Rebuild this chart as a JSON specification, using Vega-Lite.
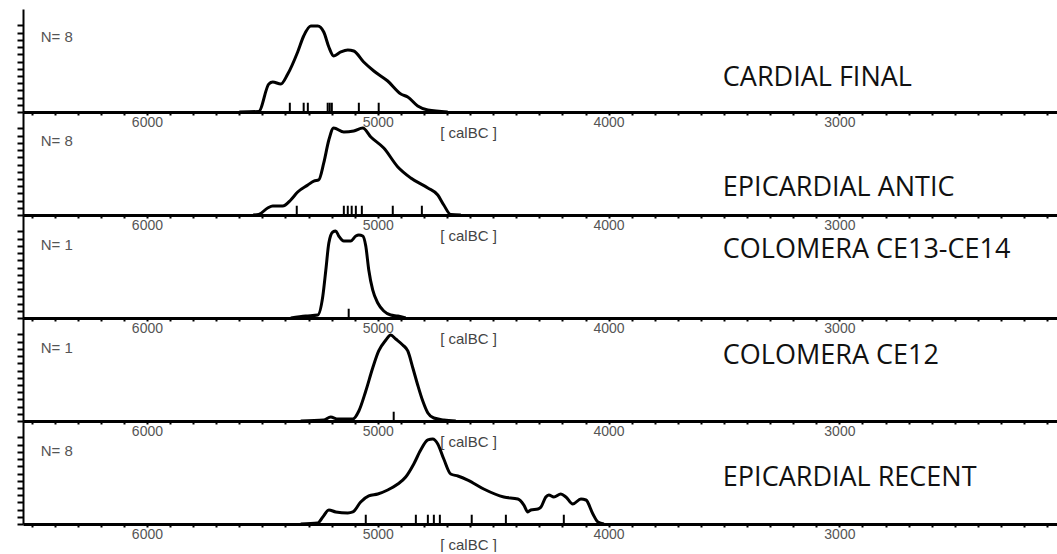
{
  "$schema": "https://vega.github.io/schema/vega-lite/v6.json",
  "padding": {"left": 16, "top": 9, "right": 0, "bottom": 0},
  "background": "white",
  "spacing": 0,
  "bounds": "flush",
  "config": {
    "view": {"stroke": null},
    "axisX": {
      "labelExpr": "(datum.value % 1000 == 0) ? format(datum.value, 'd') : ''", "labelOverlap": false, "labelFlush": false, "tickCount": 100,
      "tickSize": 3, "tickWidth": 2, "tickColor": "black", "domainColor": "black", "domainWidth": 3, "grid": false,
      "labelFont": "Liberation Sans", "labelFontSize": 14, "labelColor": "#555", "labelPadding": 0,
      "titleFont": "Liberation Sans", "titleFontSize": 15, "titleFontWeight": "normal", "titleColor": "#444", "titleX": 445, "titleY": 20, "titleBaseline": "middle", "titleAlign": "center"},
    "axisY": {"labels": false, "tickCount": 30, "tickSize": 6, "tickWidth": 2, "tickColor": "black", "domainColor": "black", "domainWidth": 2, "grid": false}
  },
  "datasets": {
    "curves": [
      {"panel": 1, "year": 5600, "dens": 0}, {"panel": 1, "year": 5516, "dens": 0.005}, {"panel": 1, "year": 5472, "dens": 0.272}, {"panel": 1, "year": 5455, "dens": 0.291}, {"panel": 1, "year": 5420, "dens": 0.272}, {"panel": 1, "year": 5390, "dens": 0.369}, {"panel": 1, "year": 5347, "dens": 0.583}, {"panel": 1, "year": 5321, "dens": 0.738}, {"panel": 1, "year": 5290, "dens": 0.835}, {"panel": 1, "year": 5260, "dens": 0.835}, {"panel": 1, "year": 5234, "dens": 0.777}, {"panel": 1, "year": 5212, "dens": 0.631}, {"panel": 1, "year": 5191, "dens": 0.544}, {"panel": 1, "year": 5160, "dens": 0.583}, {"panel": 1, "year": 5130, "dens": 0.602}, {"panel": 1, "year": 5104, "dens": 0.592}, {"panel": 1, "year": 5061, "dens": 0.485}, {"panel": 1, "year": 5017, "dens": 0.398}, {"panel": 1, "year": 4957, "dens": 0.301}, {"panel": 1, "year": 4900, "dens": 0.175}, {"panel": 1, "year": 4870, "dens": 0.146}, {"panel": 1, "year": 4827, "dens": 0.058}, {"panel": 1, "year": 4783, "dens": 0.019}, {"panel": 1, "year": 4697, "dens": 0},
      {"panel": 2, "year": 5540, "dens": 0}, {"panel": 2, "year": 5516, "dens": 0.005}, {"panel": 2, "year": 5477, "dens": 0.068}, {"panel": 2, "year": 5455, "dens": 0.087}, {"panel": 2, "year": 5412, "dens": 0.087}, {"panel": 2, "year": 5377, "dens": 0.146}, {"panel": 2, "year": 5347, "dens": 0.223}, {"panel": 2, "year": 5303, "dens": 0.291}, {"panel": 2, "year": 5277, "dens": 0.33}, {"panel": 2, "year": 5256, "dens": 0.34}, {"panel": 2, "year": 5234, "dens": 0.505}, {"panel": 2, "year": 5212, "dens": 0.728}, {"panel": 2, "year": 5191, "dens": 0.845}, {"panel": 2, "year": 5147, "dens": 0.806}, {"panel": 2, "year": 5104, "dens": 0.816}, {"panel": 2, "year": 5065, "dens": 0.845}, {"panel": 2, "year": 5030, "dens": 0.757}, {"panel": 2, "year": 4974, "dens": 0.65}, {"panel": 2, "year": 4913, "dens": 0.466}, {"panel": 2, "year": 4857, "dens": 0.359}, {"panel": 2, "year": 4783, "dens": 0.262}, {"panel": 2, "year": 4740, "dens": 0.194}, {"panel": 2, "year": 4714, "dens": 0.097}, {"panel": 2, "year": 4684, "dens": 0.005}, {"panel": 2, "year": 4640, "dens": 0},
      {"panel": 3, "year": 5377, "dens": 0}, {"panel": 3, "year": 5312, "dens": 0.019}, {"panel": 3, "year": 5260, "dens": 0.029}, {"panel": 3, "year": 5238, "dens": 0.214}, {"panel": 3, "year": 5225, "dens": 0.466}, {"panel": 3, "year": 5212, "dens": 0.728}, {"panel": 3, "year": 5195, "dens": 0.835}, {"panel": 3, "year": 5182, "dens": 0.845}, {"panel": 3, "year": 5169, "dens": 0.796}, {"panel": 3, "year": 5147, "dens": 0.748}, {"panel": 3, "year": 5117, "dens": 0.748}, {"panel": 3, "year": 5095, "dens": 0.796}, {"panel": 3, "year": 5082, "dens": 0.806}, {"panel": 3, "year": 5065, "dens": 0.796}, {"panel": 3, "year": 5052, "dens": 0.699}, {"panel": 3, "year": 5039, "dens": 0.466}, {"panel": 3, "year": 5022, "dens": 0.272}, {"panel": 3, "year": 5000, "dens": 0.146}, {"panel": 3, "year": 4974, "dens": 0.068}, {"panel": 3, "year": 4944, "dens": 0.029}, {"panel": 3, "year": 4913, "dens": 0.019}, {"panel": 3, "year": 4879, "dens": 0},
      {"panel": 4, "year": 5334, "dens": 0}, {"panel": 4, "year": 5234, "dens": 0.01}, {"panel": 4, "year": 5204, "dens": 0.039}, {"panel": 4, "year": 5173, "dens": 0.019}, {"panel": 4, "year": 5108, "dens": 0.019}, {"panel": 4, "year": 5082, "dens": 0.097}, {"panel": 4, "year": 5052, "dens": 0.291}, {"panel": 4, "year": 5022, "dens": 0.515}, {"panel": 4, "year": 4996, "dens": 0.68}, {"panel": 4, "year": 4965, "dens": 0.786}, {"panel": 4, "year": 4944, "dens": 0.835}, {"panel": 4, "year": 4922, "dens": 0.796}, {"panel": 4, "year": 4892, "dens": 0.738}, {"panel": 4, "year": 4870, "dens": 0.68}, {"panel": 4, "year": 4848, "dens": 0.515}, {"panel": 4, "year": 4827, "dens": 0.35}, {"panel": 4, "year": 4805, "dens": 0.194}, {"panel": 4, "year": 4783, "dens": 0.078}, {"panel": 4, "year": 4757, "dens": 0.029}, {"panel": 4, "year": 4714, "dens": 0.01}, {"panel": 4, "year": 4662, "dens": 0},
      {"panel": 5, "year": 5334, "dens": 0}, {"panel": 5, "year": 5260, "dens": 0.01}, {"panel": 5, "year": 5238, "dens": 0.068}, {"panel": 5, "year": 5212, "dens": 0.136}, {"panel": 5, "year": 5182, "dens": 0.117}, {"panel": 5, "year": 5130, "dens": 0.107}, {"panel": 5, "year": 5108, "dens": 0.117}, {"panel": 5, "year": 5074, "dens": 0.214}, {"panel": 5, "year": 5039, "dens": 0.272}, {"panel": 5, "year": 5000, "dens": 0.291}, {"panel": 5, "year": 4957, "dens": 0.33}, {"panel": 5, "year": 4913, "dens": 0.388}, {"panel": 5, "year": 4879, "dens": 0.456}, {"panel": 5, "year": 4844, "dens": 0.583}, {"panel": 5, "year": 4814, "dens": 0.718}, {"panel": 5, "year": 4783, "dens": 0.816}, {"panel": 5, "year": 4762, "dens": 0.825}, {"panel": 5, "year": 4740, "dens": 0.777}, {"panel": 5, "year": 4714, "dens": 0.631}, {"panel": 5, "year": 4684, "dens": 0.485}, {"panel": 5, "year": 4653, "dens": 0.466}, {"panel": 5, "year": 4610, "dens": 0.427}, {"panel": 5, "year": 4541, "dens": 0.34}, {"panel": 5, "year": 4454, "dens": 0.262}, {"panel": 5, "year": 4393, "dens": 0.243}, {"panel": 5, "year": 4367, "dens": 0.184}, {"panel": 5, "year": 4350, "dens": 0.117}, {"panel": 5, "year": 4337, "dens": 0.136}, {"panel": 5, "year": 4306, "dens": 0.146}, {"panel": 5, "year": 4293, "dens": 0.165}, {"panel": 5, "year": 4272, "dens": 0.262}, {"panel": 5, "year": 4259, "dens": 0.282}, {"panel": 5, "year": 4237, "dens": 0.262}, {"panel": 5, "year": 4207, "dens": 0.291}, {"panel": 5, "year": 4185, "dens": 0.262}, {"panel": 5, "year": 4155, "dens": 0.194}, {"panel": 5, "year": 4120, "dens": 0.243}, {"panel": 5, "year": 4098, "dens": 0.233}, {"panel": 5, "year": 4068, "dens": 0.097}, {"panel": 5, "year": 4046, "dens": 0.019}, {"panel": 5, "year": 4020, "dens": 0}
    ],
    "rugs": [
      {"panel": 1, "year": 5381}, {"panel": 1, "year": 5321}, {"panel": 1, "year": 5303}, {"panel": 1, "year": 5217}, {"panel": 1, "year": 5208}, {"panel": 1, "year": 5199}, {"panel": 1, "year": 5082}, {"panel": 1, "year": 4996},
      {"panel": 2, "year": 5351}, {"panel": 2, "year": 5147}, {"panel": 2, "year": 5130}, {"panel": 2, "year": 5113}, {"panel": 2, "year": 5095}, {"panel": 2, "year": 5069}, {"panel": 2, "year": 4935}, {"panel": 2, "year": 4809},
      {"panel": 3, "year": 5126},
      {"panel": 4, "year": 4931},
      {"panel": 5, "year": 5052}, {"panel": 5, "year": 4835}, {"panel": 5, "year": 4783}, {"panel": 5, "year": 4757}, {"panel": 5, "year": 4731}, {"panel": 5, "year": 4593}, {"panel": 5, "year": 4445}, {"panel": 5, "year": 4194}
    ],
    "labels": [
      {"panel": 1, "n": "N=  8", "title": "CARDIAL FINAL"},
      {"panel": 2, "n": "N=  8", "title": "EPICARDIAL ANTIC"},
      {"panel": 3, "n": "N=  1", "title": "COLOMERA CE13-CE14"},
      {"panel": 4, "n": "N=  1", "title": "COLOMERA CE12"},
      {"panel": 5, "n": "N=  8", "title": "EPICARDIAL RECENT"}
    ]
  },
  "vconcat": [
    {
      "width": 1035, "height": 103,
      "layer": [
        {"data": {"name": "curves"}, "transform": [{"filter": "datum.panel === 1"}],
         "mark": {"type": "line", "stroke": "black", "strokeWidth": 3, "interpolate": "monotone"},
         "encoding": {
           "x": {"field": "year", "type": "quantitative", "scale": {"domain": [6537, 2053], "nice": false, "zero": false}, "axis": {"title": "[ calBC ]", "values": [6500,6400,6300,6200,6100,6000,5900,5800,5700,5600,5500,5400,5300,5200,5100,5000,4900,4800,4700,4600,4500,4400,4300,4200,4100,4000,3900,3800,3700,3600,3500,3400,3300,3200,3100,3000,2900,2800,2700,2600,2500,2400,2300,2200,2100]}},
           "y": {"field": "dens", "type": "quantitative", "scale": {"domain": [0, 1], "nice": false}, "axis": {"title": null, "values": [0,0.07,0.14,0.21,0.28,0.35,0.42,0.49,0.56,0.63,0.7,0.77,0.84]}}
         }},
        {"data": {"name": "rugs"}, "transform": [{"filter": "datum.panel === 1"}],
         "mark": {"type": "rule", "stroke": "black", "strokeWidth": 2},
         "encoding": {"x": {"field": "year", "type": "quantitative"}, "y": {"datum": 0}, "y2": {"datum": 0.09}}},
        {"mark": {"type": "rule", "stroke": "black", "strokeWidth": 3}, "encoding": {"y": {"datum": 1}}},
        {"data": {"name": "labels"}, "transform": [{"filter": "datum.panel === 1"}],
         "mark": {"type": "text", "align": "left", "baseline": "middle", "font": "Liberation Sans", "fontSize": 15, "fill": "#555"},
         "encoding": {"x": {"datum": 6460}, "y": {"datum": 0.73}, "text": {"field": "n"}}},
        {"data": {"name": "labels"}, "transform": [{"filter": "datum.panel === 1"}],
         "mark": {"type": "text", "align": "left", "baseline": "middle", "font": "Open Sans", "fontSize": 27, "fill": "#111"},
         "encoding": {"x": {"datum": 3505}, "y": {"datum": 0.33}, "text": {"field": "title"}}}
      ]
    },
    {
      "width": 1035, "height": 103,
      "layer": [
        {"data": {"name": "curves"}, "transform": [{"filter": "datum.panel === 2"}],
         "mark": {"type": "line", "stroke": "black", "strokeWidth": 3, "interpolate": "monotone"},
         "encoding": {
           "x": {"field": "year", "type": "quantitative", "scale": {"domain": [6537, 2053], "nice": false, "zero": false}, "axis": {"title": "[ calBC ]", "values": [6500,6400,6300,6200,6100,6000,5900,5800,5700,5600,5500,5400,5300,5200,5100,5000,4900,4800,4700,4600,4500,4400,4300,4200,4100,4000,3900,3800,3700,3600,3500,3400,3300,3200,3100,3000,2900,2800,2700,2600,2500,2400,2300,2200,2100]}},
           "y": {"field": "dens", "type": "quantitative", "scale": {"domain": [0, 1], "nice": false}, "axis": {"title": null, "values": [0,0.07,0.14,0.21,0.28,0.35,0.42,0.49,0.56,0.63,0.7,0.77,0.84]}}
         }},
        {"data": {"name": "rugs"}, "transform": [{"filter": "datum.panel === 2"}],
         "mark": {"type": "rule", "stroke": "black", "strokeWidth": 2},
         "encoding": {"x": {"field": "year", "type": "quantitative"}, "y": {"datum": 0}, "y2": {"datum": 0.09}}},
        {"data": {"name": "labels"}, "transform": [{"filter": "datum.panel === 2"}],
         "mark": {"type": "text", "align": "left", "baseline": "middle", "font": "Liberation Sans", "fontSize": 15, "fill": "#555"},
         "encoding": {"x": {"datum": 6460}, "y": {"datum": 0.72}, "text": {"field": "n"}}},
        {"data": {"name": "labels"}, "transform": [{"filter": "datum.panel === 2"}],
         "mark": {"type": "text", "align": "left", "baseline": "middle", "font": "Open Sans", "fontSize": 27, "fill": "#111"},
         "encoding": {"x": {"datum": 3505}, "y": {"datum": 0.26}, "text": {"field": "title"}}}
      ]
    },
    {
      "width": 1035, "height": 103,
      "layer": [
        {"data": {"name": "curves"}, "transform": [{"filter": "datum.panel === 3"}],
         "mark": {"type": "line", "stroke": "black", "strokeWidth": 3, "interpolate": "monotone"},
         "encoding": {
           "x": {"field": "year", "type": "quantitative", "scale": {"domain": [6537, 2053], "nice": false, "zero": false}, "axis": {"title": "[ calBC ]", "values": [6500,6400,6300,6200,6100,6000,5900,5800,5700,5600,5500,5400,5300,5200,5100,5000,4900,4800,4700,4600,4500,4400,4300,4200,4100,4000,3900,3800,3700,3600,3500,3400,3300,3200,3100,3000,2900,2800,2700,2600,2500,2400,2300,2200,2100]}},
           "y": {"field": "dens", "type": "quantitative", "scale": {"domain": [0, 1], "nice": false}, "axis": {"title": null, "values": [0,0.07,0.14,0.21,0.28,0.35,0.42,0.49,0.56,0.63,0.7,0.77,0.84]}}
         }},
        {"data": {"name": "rugs"}, "transform": [{"filter": "datum.panel === 3"}],
         "mark": {"type": "rule", "stroke": "black", "strokeWidth": 2},
         "encoding": {"x": {"field": "year", "type": "quantitative"}, "y": {"datum": 0}, "y2": {"datum": 0.09}}},
        {"data": {"name": "labels"}, "transform": [{"filter": "datum.panel === 3"}],
         "mark": {"type": "text", "align": "left", "baseline": "middle", "font": "Liberation Sans", "fontSize": 15, "fill": "#555"},
         "encoding": {"x": {"datum": 6460}, "y": {"datum": 0.71}, "text": {"field": "n"}}},
        {"data": {"name": "labels"}, "transform": [{"filter": "datum.panel === 3"}],
         "mark": {"type": "text", "align": "left", "baseline": "middle", "font": "Open Sans", "fontSize": 27, "fill": "#111"},
         "encoding": {"x": {"datum": 3505}, "y": {"datum": 0.66}, "text": {"field": "title"}}}
      ]
    },
    {
      "width": 1035, "height": 103,
      "layer": [
        {"data": {"name": "curves"}, "transform": [{"filter": "datum.panel === 4"}],
         "mark": {"type": "line", "stroke": "black", "strokeWidth": 3, "interpolate": "monotone"},
         "encoding": {
           "x": {"field": "year", "type": "quantitative", "scale": {"domain": [6537, 2053], "nice": false, "zero": false}, "axis": {"title": "[ calBC ]", "values": [6500,6400,6300,6200,6100,6000,5900,5800,5700,5600,5500,5400,5300,5200,5100,5000,4900,4800,4700,4600,4500,4400,4300,4200,4100,4000,3900,3800,3700,3600,3500,3400,3300,3200,3100,3000,2900,2800,2700,2600,2500,2400,2300,2200,2100]}},
           "y": {"field": "dens", "type": "quantitative", "scale": {"domain": [0, 1], "nice": false}, "axis": {"title": null, "values": [0,0.07,0.14,0.21,0.28,0.35,0.42,0.49,0.56,0.63,0.7,0.77,0.84]}}
         }},
        {"data": {"name": "rugs"}, "transform": [{"filter": "datum.panel === 4"}],
         "mark": {"type": "rule", "stroke": "black", "strokeWidth": 2},
         "encoding": {"x": {"field": "year", "type": "quantitative"}, "y": {"datum": 0}, "y2": {"datum": 0.09}}},
        {"data": {"name": "labels"}, "transform": [{"filter": "datum.panel === 4"}],
         "mark": {"type": "text", "align": "left", "baseline": "middle", "font": "Liberation Sans", "fontSize": 15, "fill": "#555"},
         "encoding": {"x": {"datum": 6460}, "y": {"datum": 0.71}, "text": {"field": "n"}}},
        {"data": {"name": "labels"}, "transform": [{"filter": "datum.panel === 4"}],
         "mark": {"type": "text", "align": "left", "baseline": "middle", "font": "Open Sans", "fontSize": 27, "fill": "#111"},
         "encoding": {"x": {"datum": 3505}, "y": {"datum": 0.63}, "text": {"field": "title"}}}
      ]
    },
    {
      "width": 1035, "height": 103,
      "layer": [
        {"data": {"name": "curves"}, "transform": [{"filter": "datum.panel === 5"}],
         "mark": {"type": "line", "stroke": "black", "strokeWidth": 3, "interpolate": "monotone"},
         "encoding": {
           "x": {"field": "year", "type": "quantitative", "scale": {"domain": [6537, 2053], "nice": false, "zero": false}, "axis": {"title": "[ calBC ]", "values": [6500,6400,6300,6200,6100,6000,5900,5800,5700,5600,5500,5400,5300,5200,5100,5000,4900,4800,4700,4600,4500,4400,4300,4200,4100,4000,3900,3800,3700,3600,3500,3400,3300,3200,3100,3000,2900,2800,2700,2600,2500,2400,2300,2200,2100]}},
           "y": {"field": "dens", "type": "quantitative", "scale": {"domain": [0, 1], "nice": false}, "axis": {"title": null, "values": [0,0.07,0.14,0.21,0.28,0.35,0.42,0.49,0.56,0.63,0.7,0.77,0.84]}}
         }},
        {"data": {"name": "rugs"}, "transform": [{"filter": "datum.panel === 5"}],
         "mark": {"type": "rule", "stroke": "black", "strokeWidth": 2},
         "encoding": {"x": {"field": "year", "type": "quantitative"}, "y": {"datum": 0}, "y2": {"datum": 0.09}}},
        {"data": {"name": "labels"}, "transform": [{"filter": "datum.panel === 5"}],
         "mark": {"type": "text", "align": "left", "baseline": "middle", "font": "Liberation Sans", "fontSize": 15, "fill": "#555"},
         "encoding": {"x": {"datum": 6460}, "y": {"datum": 0.71}, "text": {"field": "n"}}},
        {"data": {"name": "labels"}, "transform": [{"filter": "datum.panel === 5"}],
         "mark": {"type": "text", "align": "left", "baseline": "middle", "font": "Open Sans", "fontSize": 27, "fill": "#111"},
         "encoding": {"x": {"datum": 3505}, "y": {"datum": 0.45}, "text": {"field": "title"}}}
      ]
    }
  ]
}
